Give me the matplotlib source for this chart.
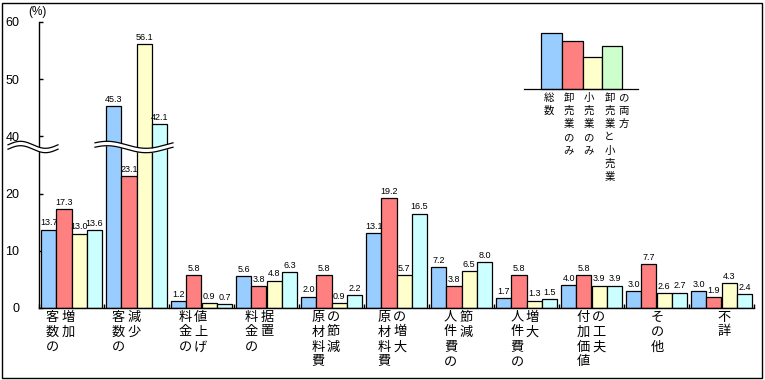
import numpy as np
import matplotlib
matplotlib.use("Agg")
import matplotlib.pyplot as plt
from matplotlib.patches import Rectangle
from matplotlib import transforms

plt.rcParams['font.family'] = ['Liberation Sans', 'Noto Sans CJK JP', 'DejaVu Sans']

# ---------------- data ----------------
categories = ["客数の増加", "客数の減少", "料金の値上げ", "料金の据置", "原材料費の節減",
              "原材料費の増大", "人件費の節減", "人件費の増大", "付加価値の工夫", "その他", "不詳"]
label_columns = [("客数の", "増加"), ("客数の", "減少"), ("料金の", "値上げ"), ("料金の", "据置"),
                 ("原材料費", "の節減"), ("原材料費", "の増大"), ("人件費の", "節減"),
                 ("人件費の", "増大"), ("付加価値", "の工夫"), ("その他",), ("不詳",)]
series_names = ["総数", "卸売業のみ", "小売業のみ", "卸売業と小売業の両方"]
legend_columns = [("総数",), ("卸売業のみ",), ("小売業のみ",), ("卸売業と小売業", "の両方")]
total      = [13.7, 45.3, 1.2, 5.6, 2.0, 13.1, 7.2, 1.7, 4.0, 3.0, 3.0]
wholesale  = [17.3, 23.1, 5.8, 3.8, 5.8, 19.2, 3.8, 5.8, 5.8, 7.7, 1.9]
retail     = [13.0, 56.1, 0.9, 4.8, 0.9, 5.7, 6.5, 1.3, 3.9, 2.6, 4.3]
both       = [13.6, 42.1, 0.7, 6.3, 2.2, 16.5, 8.0, 1.5, 3.9, 2.7, 2.4]
ytick_values = [0, 10, 20, 40, 50, 60]

# ---------------- style ----------------
colors = ["#99CCFF", "#FF8080", "#FFFFCC", "#CCFFFF"]
legend_colors = ["#99CCFF", "#FF8080", "#FFFFCC", "#CCFFCC"]
BREAK_LOW, BREAK_HIGH = 30, 40  # axis break: 30..40 removed


def disp(v):
    return v if v < BREAK_LOW else v - (BREAK_HIGH - BREAK_LOW)


W, H = 765, 380
fig = plt.figure(figsize=(W / 100, H / 100), dpi=100)
fig.patch.set_facecolor("white")
ax = fig.add_axes([39 / W, 72 / H, 715 / W, 286 / H])
ax.set_xlim(0, len(categories))
ax.set_ylim(0, 50)
for s in ["top", "right"]:
    ax.spines[s].set_visible(False)
for s in ["left", "bottom"]:
    ax.spines[s].set_linewidth(1.0)

ax.set_yticks([disp(v) for v in ytick_values])
ax.set_yticklabels([str(v) for v in ytick_values], fontsize=9)
ax.tick_params(axis="y", direction="in", length=3, pad=14, width=1)
ax.set_xticks(np.arange(len(categories) + 1))
ax.set_xticklabels([])
ax.tick_params(axis="x", direction="in", length=3, width=1)

bw = 0.235
off = 0.03
all_series = [total, wholesale, retail, both]
for j, (vals, c) in enumerate(zip(all_series, colors)):
    xs = np.arange(len(categories)) + off + j * bw
    dv = [disp(v) for v in vals]
    ax.bar(xs, dv, width=bw, align="edge", color=c, edgecolor="black", linewidth=0.9, zorder=2)
    for x, d, v in zip(xs, dv, vals):
        ax.text(x + bw / 2, d + 0.4, f"{v:.1f}", ha="center", va="bottom", fontsize=6.5, zorder=5)

# axis-break waves
px = 5.72  # pixels per unit
def wave(x0px, x1px, ycpx, phase=0.0):
    xp = np.linspace(x0px, x1px, 200)
    t = (xp - x0px) / (x1px - x0px)
    yp = ycpx - 3.5 * np.sin(2 * np.pi * t + phase)
    xd = (xp - 39) / 65
    top = (308 - (yp - 2.2)) / px
    bot = (308 - (yp + 2.2)) / px
    ax.fill_between(xd, bot, top, color="white", zorder=6, clip_on=False, linewidth=0)
    ax.plot(xd, top, color="black", lw=0.9, zorder=7, clip_on=False)
    ax.plot(xd, bot, color="black", lw=0.9, zorder=7, clip_on=False)

wave(8, 58, 147)
wave(95, 173, 147, phase=0.6)

# category labels (vertical, columns left to right)
trans = transforms.blended_transform_factory(ax.transData, fig.transFigure)
for i, cols in enumerate(label_columns):
    cpx = 60 + 66.4 * i
    n = len(cols)
    for k, col in enumerate(cols):
        xpx = cpx + (k - (n - 1) / 2) * 15.5
        for r, ch in enumerate(col):
            ypx = 317 + 15 * r
            ax.text((xpx - 39) / 65, (H - ypx) / H, ch, transform=trans, ha="center",
                    va="center", fontsize=9.5, family=["Noto Sans CJK JP"])

# (%) label
fig.text(37 / W, (H - 12) / H, "(%)", ha="center", va="center", fontsize=8.5)

# legend mini-chart
leg_bars = [(541, 562, 33), (562, 583, 41), (583, 602, 57), (602, 622, 46)]
for (x0, x1, top), c in zip(leg_bars, legend_colors):
    fig.add_artist(Rectangle((x0 / W, (H - 89) / H), (x1 - x0) / W, (89 - top) / H,
                             transform=fig.transFigure, facecolor=c, edgecolor="black", lw=0.9))
fig.add_artist(plt.Line2D([524 / W, 638 / W], [(H - 89) / H] * 2, transform=fig.transFigure,
                          color="black", lw=0.9))
leg_x = [548.5, 568.5, 588.5, 609.5]
for lx, cols in zip(leg_x, legend_columns):
    for k, col in enumerate(cols):
        for r, ch in enumerate(col):
            fig.text((lx + 14 * k) / W, (H - (97.5 + 13.3 * r)) / H, ch, ha="center", va="center",
                     fontsize=7.5, family=["Noto Sans CJK JP"])

# outer border
fig.add_artist(Rectangle((2 / W, 2.5 / H), 760 / W, 375 / H, transform=fig.transFigure,
                         fill=False, edgecolor="black", lw=1.0))

fig.savefig("out.png", dpi=100, facecolor="white")
